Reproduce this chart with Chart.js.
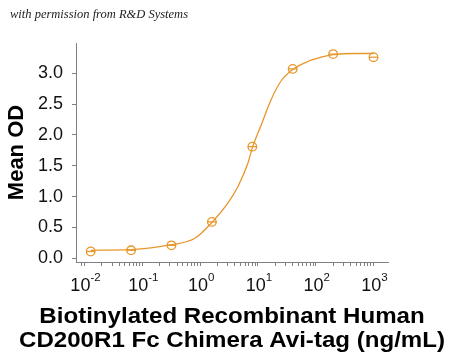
<!DOCTYPE html>
<html>
<head>
<meta charset="utf-8">
<script src="https://cdn.jsdelivr.net/npm/chart.js@4"></script>
<style>
  html, body { margin: 0; padding: 0; background: #ffffff; }
  #wrap { position: relative; width: 450px; height: 357px; }
</style>
</head>
<body>
<div id="wrap"><canvas id="c" width="450" height="357"></canvas></div>
<script>
// ---- data ----
const concentrations = [0.0128, 0.064, 0.32, 1.6, 8, 40, 200, 1000];   // ng/mL
const meanOD         = [0.11, 0.13, 0.21, 0.59, 1.81, 3.07, 3.31, 3.26];

// fitted curve at several positions
const curveX = [0.0128, 0.064, 0.32, 0.8, 1.6, 3.0, 4.5, 6.7, 8, 11.4, 16.9, 25, 40, 73, 125, 200, 480, 1000];
const curveY = [0.13, 0.14, 0.22, 0.32, 0.58, 0.89, 1.16, 1.54, 1.79, 2.16, 2.57, 2.87, 3.06, 3.19, 3.26, 3.30, 3.32, 3.32];

const xDecades     = [0.01, 0.1, 1, 10, 100, 1000];
const xTickBase    = '10';
const xTickExps    = ['-2', '-1', '0', '1', '2', '3'];
const yTicks       = [0, 0.5, 1.0, 1.5, 2.0, 2.5, 3.0];

const xTitle = ['Biotinylated Recombinant Human', 'CD200R1 Fc Chimera Avi-tag (ng/mL)'];
const yTitle = 'Mean OD';
const watermark = 'with permission from R\u0026D Systems';

const ORANGE = '#E8962A';
const AXIS = '#808080';
const SANS = '"Liberation Sans", Arial, sans-serif';

const toXY = (xs, ys) => xs.map((x, i) => ({ x: x, y: ys[i] }));

const textPlugin = {
  id: 'texts',
  afterDraw(chart) {
    const ctx = chart.ctx;
    const xs = chart.scales.x;
    const area = chart.chartArea;
    ctx.save();

    // watermark
    ctx.font = 'italic 12.5px "Liberation Serif", "DejaVu Serif", serif';
    ctx.fillStyle = '#222222';
    ctx.textBaseline = 'middle';
    ctx.textAlign = 'left';
    ctx.fillText(watermark, 10, 15);

    // x tick labels: 10 with superscript exponent, centred on the scale's tick
    ctx.fillStyle = '#111111';
    ctx.textBaseline = 'alphabetic';
    xDecades.forEach((d, i) => {
      const px = xs.getPixelForValue(d);
      ctx.font = '18px ' + SANS;
      const w1 = ctx.measureText(xTickBase).width;
      ctx.font = '11.5px ' + SANS;
      const w2 = ctx.measureText(xTickExps[i]).width;
      const start = px - (w1 + w2) / 2 + 1;
      ctx.font = '18px ' + SANS;
      ctx.fillText(xTickBase, start, xs.top + 28.5);
      ctx.font = '11.5px ' + SANS;
      ctx.fillText(xTickExps[i], start + w1, xs.top + 18.5);
    });

    // x axis title (two lines)
    ctx.fillStyle = '#000000';
    ctx.textAlign = 'center';
    ctx.font = 'bold 21.5px ' + SANS;
    const cx = (area.left + area.right) / 2;
    const sx = 1.12;
    const baselines = [323, 347];
    xTitle.forEach((line, i) => {
      ctx.save();
      ctx.translate(cx, baselines[i]);
      ctx.scale(sx, 1);
      ctx.fillText(line, 0, 0);
      ctx.restore();
    });

    ctx.restore();
  }
};

new Chart(document.getElementById('c'), {
  type: 'line',
  data: {
    datasets: [
      {
        label: 'fit',
        data: toXY(curveX, curveY),
        borderColor: ORANGE,
        borderWidth: 1.3,
        pointRadius: 0,
        fill: false,
        cubicInterpolationMode: 'monotone',
        order: 3
      },
      {
        label: 'points',
        data: toXY(concentrations, meanOD),
        showLine: false,
        pointStyle: 'circle',
        pointRadius: 4.3,
        pointBorderWidth: 1.3,
        pointBorderColor: ORANGE,
        pointBackgroundColor: 'rgba(0,0,0,0)',
        order: 2
      },
      {
        label: 'bars',
        data: toXY(concentrations, meanOD),
        showLine: false,
        pointStyle: 'line',
        pointRadius: 4.3,
        pointBorderWidth: 1.2,
        pointBorderColor: ORANGE,
        order: 1
      }
    ]
  },
  options: {
    responsive: false,
    animation: false,
    devicePixelRatio: 1,
    layout: { padding: { left: 0, right: 62, top: 43, bottom: 0 } },
    plugins: {
      legend: { display: false },
      tooltip: { enabled: false }
    },
    scales: {
      x: {
        type: 'logarithmic',
        min: 0.00713,
        max: 1782,
        afterFit(scale) { scale.height = 95; },
        afterBuildTicks(scale) {
          const t = [];
          xDecades.forEach(d => {
            for (let k = 1; k <= 9; k++) {
              const v = d * k;
              if (v >= scale.min && v <= scale.max) t.push({ value: v });
            }
          });
          const pre = xDecades[0] / 10 * 9;
          if (pre >= scale.min) t.unshift({ value: pre });
          scale.ticks = t;
        },
        border: { display: true, color: AXIS, width: 1 },
        grid: {
          drawOnChartArea: false,
          drawTicks: true,
          tickLength: 4,
          tickColor: AXIS,
          lineWidth: 1
        },
        ticks: {
          autoSkip: false,
          maxRotation: 0,
          padding: 2,
          font: { family: SANS, size: 17 },
          callback() { return ''; }
        },
        title: { display: false }
      },
      y: {
        type: 'linear',
        min: -0.06,
        max: 3.49,
        afterFit(scale) { scale.width = 76; },
        afterBuildTicks(scale) {
          scale.ticks = yTicks.map(v => ({ value: v }));
        },
        border: { display: true, color: AXIS, width: 1 },
        grid: {
          drawOnChartArea: false,
          drawTicks: true,
          tickLength: 4,
          tickColor: AXIS,
          lineWidth: 1
        },
        ticks: {
          padding: 9,
          color: '#111111',
          font: { family: SANS, size: 18 },
          callback(value) { return value.toFixed(1); }
        },
        title: {
          display: true,
          text: yTitle,
          color: '#000000',
          font: { family: SANS, size: 22, weight: 'bold', lineHeight: 1 },
          padding: { top: 6, bottom: 0 }
        }
      }
    }
  },
  plugins: [textPlugin]
});
</script>
</body>
</html>
